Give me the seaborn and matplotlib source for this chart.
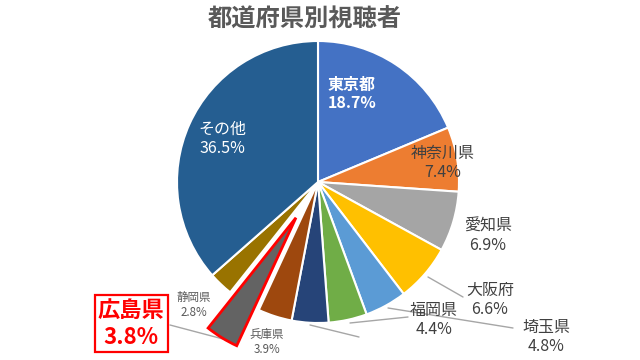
import matplotlib
matplotlib.use("Agg")
import matplotlib.pyplot as plt
import seaborn as sns
from matplotlib.patches import Rectangle

sns.set_theme(style="white")
plt.rcParams['font.family'] = ['Noto Sans CJK JP', 'DejaVu Sans']

# ---- data ----
prefectures = ["東京都", "神奈川県", "愛知県", "大阪府", "埼玉県", "福岡県", "", "兵庫県", "広島県", "静岡県", "その他"]
shares = [18.7, 7.4, 6.9, 6.6, 4.8, 4.4, 4.2, 3.9, 3.8, 2.8, 36.5]
colors = ["#4472C4", "#ED7D31", "#A5A5A5", "#FFC000", "#5B9BD5", "#70AD47",
          "#264478", "#9E480E", "#636363", "#997300", "#255E91"]
title = "都道府県別視聴者"

# ---- figure ----
W, H = 640, 360
fig = plt.figure(figsize=(6.4, 3.6), dpi=100)
ax = fig.add_axes([0, 0, 1, 1])


def P(px, py):
    return px / 100.0, (H - py) / 100.0


cx, cy = P(318, 182)
explode = [0.42 if p == "広島県" else 0 for p in prefectures]
wedges, _ = ax.pie(shares, colors=colors, startangle=90, counterclock=False,
                   center=(cx, cy), radius=1.41, explode=explode,
                   wedgeprops=dict(edgecolor="white", linewidth=1.5))
ax.set_xlim(0, 6.4)
ax.set_ylim(0, 3.6)
ax.set_aspect("equal")
ax.axis("off")

hi = prefectures.index("広島県")
wedges[hi].set_edgecolor("#FF0000")
wedges[hi].set_linewidth(2.0)
wedges[hi].set_zorder(5)

# ---- labels ----
label_style = {
    "東京都": dict(pos=(352, 94), color="white", size=11.5, weight="bold"),
    "その他": dict(pos=(222, 139), color="white", size=11.5, weight="normal"),
    "神奈川県": dict(pos=(443, 163), color="#404040", size=11.5, weight="normal"),
    "愛知県": dict(pos=(488, 236), color="#404040", size=11.5, weight="normal"),
    "大阪府": dict(pos=(490, 300), color="#404040", size=11.5, weight="normal"),
    "埼玉県": dict(pos=(546, 337), color="#404040", size=11.5, weight="normal"),
    "福岡県": dict(pos=(434, 320), color="#404040", size=11.5, weight="normal"),
    "兵庫県": dict(pos=(267, 342), color="#595959", size=8.3, weight="normal"),
    "静岡県": dict(pos=(194, 305), color="#595959", size=8.3, weight="normal"),
    "広島県": dict(pos=(131, 324), color="#FF0000", size=16, weight="bold"),
}
for name, val in zip(prefectures, shares):
    if name not in label_style:
        continue
    s = label_style[name]
    x, y = P(*s["pos"])
    ax.text(x, y, f"{name}\n{val:.1f}%", ha="center", va="center",
            color=s["color"], fontsize=s["size"], fontweight=s["weight"],
            linespacing=1.2, zorder=10)

# red box around 広島県 label
bx0, by0 = P(95, 352)
ax.add_patch(Rectangle((bx0, by0), 0.73, 0.57, fill=True, facecolor="white",
                       edgecolor="#FF0000", linewidth=1.6, zorder=9))

# leader lines
leaders = [
    [(428, 277), (463, 297)],
    [(388, 308), (513, 328)],
    [(350, 323), (408, 317)],
    [(310, 325), (359, 337)],
    [(170, 325), (223, 339)],
]
for seg in leaders:
    (x1, y1), (x2, y2) = P(*seg[0]), P(*seg[1])
    ax.plot([x1, x2], [y1, y2], color="#A6A6A6", linewidth=1.0, zorder=3)

tx, ty = P(305, 20)
ax.text(tx, ty, title, ha="center", va="center", fontsize=17.5,
        fontweight="bold", color="#595959")

fig.savefig("out.png", dpi=100)
